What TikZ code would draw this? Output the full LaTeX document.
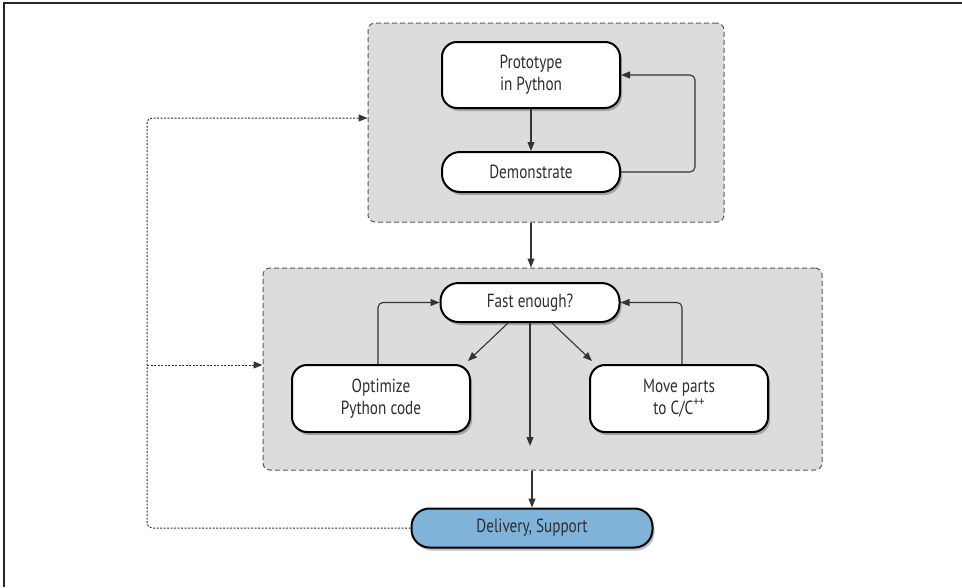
\documentclass[tikz,border=0pt]{standalone}
\usepackage{fontspec}
\setmainfont{PT Sans}[FakeStretch=0.8]
\usetikzlibrary{arrows.meta,shadows}
\definecolor{grp}{HTML}{DCDCDC}
\definecolor{grpline}{HTML}{5A5A5A}
\definecolor{txt}{HTML}{2E2E2E}
\definecolor{deliv}{HTML}{80B3D9}
\definecolor{arr}{HTML}{333333}
\tikzset{
  group/.style={draw=grpline, dashed, dash pattern=on 5pt off 3pt, line width=1pt, fill=grp, rounded corners=7pt, inner sep=0pt},
  box/.style={draw=black, line width=2pt, fill=white, rounded corners=15pt, inner sep=0pt, align=center,
     text=txt, font=\fontsize{19}{22}\selectfont,
     drop shadow={shadow xshift=2pt, shadow yshift=-3pt, opacity=0.25, fill=black}},
  pill/.style={box, rounded corners=18pt},
  flow/.style={draw=arr, line width=1.1pt, -{Triangle[length=9pt,width=7pt]}, rounded corners=5pt},
  fb/.style={draw=black!80, line width=1pt, dash pattern=on 2pt off 1.5pt, -{Triangle[length=9pt,width=7pt]}, rounded corners=5pt},
}
\newcommand{\pp}{\raisebox{0.45em}{\fontsize{14}{14}\selectfont ++}}
\begin{document}
\begin{tikzpicture}[x=1pt,y=-1pt]
\useasboundingbox (0,0) rectangle (962,587);
\fill[white] (0,0) rectangle (962,587);
\draw[line width=1.6pt, black!85] (4,587) -- (4,3) -- (962,3);

\node[group, minimum width=356pt, minimum height=199pt] (topbox) at (546,122.5) {};
\node[group, minimum width=559pt, minimum height=202pt] (midbox) at (542.5,369) {};

\node[box, minimum width=178pt, minimum height=66pt] (proto) at (531,75) {Prototype\\in Python};
\node[pill, minimum width=178pt, minimum height=40pt] (demo) at (531,172) {Demonstrate};
\node[pill, minimum width=179pt, minimum height=39pt] (fast) at (530,302.5) {Fast enough?};
\node[box, minimum width=178pt, minimum height=67pt] (opt) at (381,398.5) {Optimize\\Python code};
\node[box, minimum width=178pt, minimum height=67pt] (move) at (679,398.5) {Move parts\\to C/C\pp};
\node[pill, fill=deliv, minimum width=241pt, minimum height=39pt] (deliv) at (532,528) {Delivery, Support};

\coordinate (cl) at (147,0);
\coordinate (cend) at (530,446);
\coordinate (lr) at (695,0);

\draw[flow] (proto.south) -- (demo.north);
\draw[flow] (demo.east) -| (lr |- proto.east) -- (proto.east);
\draw[flow] (proto |- topbox.south) -- (proto |- midbox.north);
\draw[flow] (fast.south) -- (cend);
\draw[flow] ([xshift=-22pt]fast.south) -- ([xshift=-3pt,yshift=3pt]opt.north east);
\draw[flow] ([xshift=22pt]fast.south) -- ([xshift=3pt,yshift=3pt]move.north west);
\draw[flow] ([xshift=-3pt]opt.north) |- (fast.west);
\draw[flow] ([xshift=3pt]move.north) |- (fast.east);
\draw[flow] (deliv.north |- midbox.south) -- (deliv.north);

\draw[fb] (deliv.west) -| ([yshift=4.5pt]cl |- topbox.west) -- ([yshift=4.5pt]topbox.west);
\draw[fb] ([yshift=4pt]cl |- midbox.west) -- ([yshift=4pt]midbox.west);
\end{tikzpicture}
\end{document}
